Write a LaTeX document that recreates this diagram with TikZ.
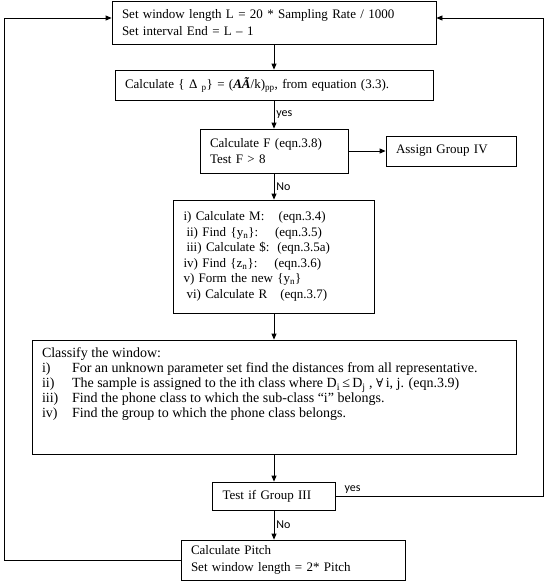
\documentclass[tikz,border=0pt]{standalone}
\usepackage{fontspec}
\setmainfont{Liberation Serif}
\newfontfamily\lblfont{Carlito}
\newfontfamily\symfont{DejaVu Serif}
\usetikzlibrary{arrows.meta}

\tikzset{
	box/.style={draw, inner xsep=10pt, inner ysep=0pt, align=left,
		font=\fontsize{13}{16.5}\selectfont},
	lbl/.style={font=\lblfont\fontsize{12}{14}\selectfont, inner sep=2pt},
}

\begin{document}
\begin{tikzpicture}[x=1pt, y=-1pt, line width=0.8pt, arrows={-Triangle[length=6pt,width=5pt]}]
	\useasboundingbox (0,0) rectangle (545,581);

	\node [box, minimum height=43pt, text width=304pt] (W) at (274,22.5)
	{Set window length L = 20 * Sampling Rate / 1000\\
	 Set interval End = L -- 1};
	\node [box, minimum height=30pt, text width=298pt] (D) at (274,85)
	{Calculate \{ Δ\textsubscript{ p}\} = (\textit{\textbf{AÃ}}/k)\textsubscript{pp}, from equation (3.3).};
	\node [box, minimum height=44pt, text width=128pt] (F) at (274,151)
	{Calculate F (eqn.3.8)\\ Test F > 8};
	\node [box, minimum height=30pt, text width=110pt] (G4) at (451,151)
	{Assign Group IV};
	\node [box, minimum height=113pt, text width=181pt,
		font=\fontsize{13}{15.5}\selectfont] (S) at (274,256.5)
	{i) Calculate M:\hspace{1.1em}(eqn.3.4)\\
	 \hspace*{3pt}ii) Find \{y\textsubscript{n}\}:\hspace{1.3em}(eqn.3.5)\\
	 \hspace*{3pt}iii) Calculate \$:\hspace{0.6em}(eqn.3.5a)\\
	 iv) Find \{z\textsubscript{n}\}:\hspace{1.3em}(eqn.3.6)\\
	 v) Form the new \{y\textsubscript{n}\}\\
	 \hspace*{3pt}vi) Calculate R\hspace{1em}(eqn.3.7)};
	\node [box, font=\fontsize{14}{15}\selectfont] (C) at (274,397)
	{\parbox[c][114pt][t]{464pt}{\vspace*{8pt}%
		Classify the window:\\
		\makebox[30pt][l]{i)}For an unknown parameter set find the distances from all representative.\\
		\makebox[30pt][l]{ii)}The sample is assigned to the ith class where D\textsubscript{i}\,≤\,D\textsubscript{j} , {\symfont\fontsize{12}{15}\selectfont ∀}\,i, j. (eqn.3.9)\\
		\makebox[30pt][l]{iii)}Find the phone class to which the sub-class “i” belongs.\\
		\makebox[30pt][l]{iv)}Find the group to which the phone class belongs.}};
	\node [box, minimum height=28pt, text width=103pt] (G3) at (274,496)
	{Test if Group III};
	\node [box, minimum height=40pt, text width=204pt] (P) at (293,560)
	{Calculate Pitch\\ Set window length = 2* Pitch};

	\coordinate (R1) at (543,496);
	\coordinate (R2) at (543,18);
	\coordinate (L1) at (4,560);
	\coordinate (L2) at (4,18);

	\draw (W) -- (D);
	\draw (D) to node [lbl, right] {yes} (F);
	\draw (F) -- (G4);
	\draw (F) to node [lbl, right] {No} (S);
	\draw (S) -- (C);
	\draw (C) -- (G3);
	\draw (G3) to node [lbl, right] {No} (G3 |- P.north);
	\draw (G3) -- node [lbl, above right, pos=0.03] {yes} (R1) -- (R2) -- (W.east |- R2);
	\draw (P) -- (L1) -- (L2) -- (W.west |- L2);
\end{tikzpicture}
\end{document}
